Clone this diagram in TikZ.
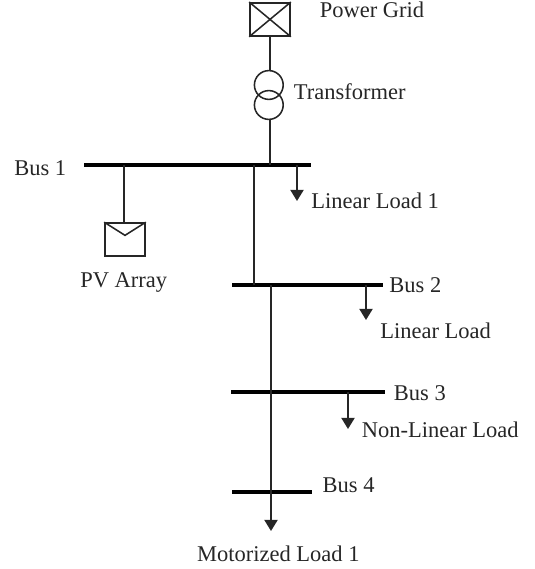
\documentclass[tikz,border=0pt]{standalone}
\usepackage{fontspec}
\setmainfont{Liberation Serif}
\usetikzlibrary{arrows.meta}
\tikzset{
  busbar/.style={line width=2.7pt},
  feeder/.style={line width=1.1pt, black!85},
  load/.style={feeder, -{Triangle[length=8pt,width=9.5pt]}},
  tag/.style={anchor=west, inner sep=0pt, font=\fontsize{16}{18}\selectfont, text=black!85},
  winding/.style={circle, draw, line width=1.1pt, black!85, minimum size=0.72cm, inner sep=0pt}
}
\begin{document}
\begin{tikzpicture}
  \useasboundingbox (0,0) rectangle (13.35,14.225);

  % source side
  \node[draw, line width=1.2pt, black!85, minimum width=1cm, minimum height=0.825cm, inner sep=0pt] (grid) at (6.75,13.74) {};
  \draw[feeder] (grid.north west) -- (grid.south east);
  \draw[feeder] (grid.north east) -- (grid.south west);
  \node[winding] (xfmrA) at (6.72,12.1) {};
  \node[winding] (xfmrB) at (6.72,11.6) {};

  % buses
  \coordinate (bus1w) at (2.1,10.1);
  \coordinate (bus1e) at (7.775,10.1);
  \coordinate (bus2w) at (5.8,7.1);
  \coordinate (bus2e) at (9.575,7.1);
  \coordinate (bus3w) at (5.775,4.425);
  \coordinate (bus3e) at (9.625,4.425);
  \coordinate (bus4w) at (5.8,1.925);
  \coordinate (bus4e) at (7.8,1.925);
  \draw[busbar] (bus1w) -- (bus1e);
  \draw[busbar] (bus2w) -- (bus2e);
  \draw[busbar] (bus3w) -- (bus3e);
  \draw[busbar] (bus4w) -- (bus4e);

  % tap points
  \coordinate (tapgrid) at (6.75,10.1);
  \coordinate (tappv) at (3.1,10.1);
  \coordinate (tapA) at (6.35,10.1);
  \coordinate (tapB) at (6.35,7.1);
  \coordinate (tapC) at (6.775,7.1);
  \coordinate (tap1) at (7.425,10.1);
  \coordinate (end1) at (7.425,9.2);
  \coordinate (tap2) at (9.15,7.1);
  \coordinate (end2) at (9.15,6.225);
  \coordinate (tap3) at (8.7,4.425);
  \coordinate (end3) at (8.7,3.5);
  \coordinate (endmotor) at (6.775,0.95);

  % PV array
  \node[draw, line width=1.2pt, black!85, minimum width=1cm, minimum height=0.825cm, inner sep=0pt] (pv) at (3.125,8.2375) {};
  \draw[feeder] (pv.north west) -- ([yshift=-0.33cm]pv.north) -- (pv.north east);

  % connectors
  \draw[feeder] (grid.south) -- (grid.south |- xfmrA.north);
  \draw[feeder] (tapgrid |- xfmrB.south) -- (tapgrid);
  \draw[feeder] (tappv) -- (tappv |- pv.north);
  \draw[feeder] (tapA) -- (tapB);
  \draw[load] (tap1) -- (end1);
  \draw[load] (tap2) -- (end2);
  \draw[load] (tap3) -- (end3);
  \draw[load] (tapC) -- (endmotor);

  % labels
  \node[tag] (lgrid) at (7.99,13.98) {Power Grid};
  \node[tag] (lxfmr) at (7.34,11.93) {Transformer};
  \node[tag] (lbus1) at (0.35,10.03) {Bus 1};
  \node[tag] (lload1) at (7.78,9.2) {Linear Load 1};
  \node[tag] (lpv) at (2.0,7.17) {PV Array};
  \node[tag] (lbus2) at (9.73,7.1) {Bus 2};
  \node[tag] (lload2) at (9.5,5.95) {Linear Load};
  \node[tag] (lbus3) at (9.84,4.4) {Bus 3};
  \node[tag] (lload3) at (9.04,3.47) {Non-Linear Load};
  \node[tag] (lbus4) at (8.06,2.1) {Bus 4};
  \node[tag] (lmotor) at (4.92,0.38) {Motorized Load 1};
\end{tikzpicture}
\end{document}
